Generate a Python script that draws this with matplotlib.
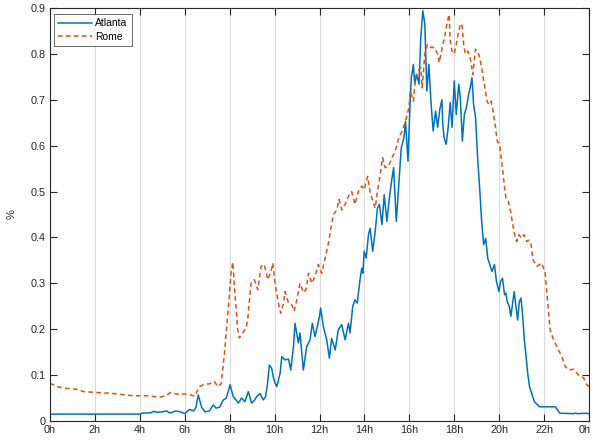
import matplotlib
matplotlib.use("Agg")
import matplotlib.pyplot as plt
from matplotlib.transforms import ScaledTranslation

plt.rcParams['font.family'] = ['Liberation Sans', 'DejaVu Sans']

# Atlanta: (hour, share) readings
atl_t = [0.0, 4.0, 4.1, 4.5, 4.6, 4.8, 5.0, 5.2, 5.3, 5.4, 5.6, 5.8, 6.0, 6.2, 6.4, 6.5, 6.6, 6.75,
         6.9, 7.1, 7.27, 7.4, 7.55, 7.72, 7.85, 8.02, 8.16, 8.3, 8.39, 8.53, 8.68, 8.83, 8.98, 9.1,
         9.2, 9.35, 9.5, 9.6, 9.68, 9.77, 9.87, 9.95, 10.02, 10.1, 10.25, 10.32, 10.47, 10.62, 10.72,
         10.84, 10.91, 11.06, 11.13, 11.28, 11.43, 11.58, 11.68, 11.8, 11.87, 12.0, 12.05, 12.17,
         12.32, 12.44, 12.54, 12.7, 12.84, 12.99, 13.14, 13.29, 13.36, 13.48, 13.58, 13.68, 13.81,
         13.88, 13.93, 13.99, 14.08, 14.18, 14.25, 14.37, 14.48, 14.58, 14.67, 14.78, 14.88, 15.0,
         15.12, 15.23, 15.3, 15.42, 15.53, 15.64, 15.76, 15.83, 15.94, 16.03, 16.09, 16.18, 16.24,
         16.33, 16.43, 16.51, 16.6, 16.69, 16.78, 16.87, 16.96, 17.06, 17.17, 17.26, 17.36, 17.45,
         17.49, 17.55, 17.64, 17.73, 17.82, 17.9, 18.0, 18.09, 18.2, 18.27, 18.36, 18.45, 18.54,
         18.64, 18.71, 18.79, 18.86, 18.95, 19.04, 19.13, 19.22, 19.31, 19.4, 19.49, 19.58, 19.68,
         19.79, 19.88, 19.99, 20.06, 20.15, 20.24, 20.3, 20.36, 20.45, 20.52, 20.67, 20.82, 20.9,
         20.97, 21.05, 21.12, 21.2, 21.27, 21.35, 21.45, 21.57, 21.65, 21.72, 21.8, 22.5, 22.6,
         22.7, 23.3, 23.4, 23.5, 23.9, 24.0]
atl_v = [0.015, 0.015, 0.017, 0.018, 0.021, 0.019, 0.02, 0.022, 0.018, 0.018, 0.022, 0.02, 0.016,
         0.025, 0.022, 0.03, 0.057, 0.03, 0.02, 0.022, 0.035, 0.028, 0.03, 0.046, 0.05, 0.079,
         0.053, 0.045, 0.039, 0.05, 0.042, 0.064, 0.039, 0.045, 0.053, 0.06, 0.046, 0.053, 0.08,
         0.122, 0.115, 0.094, 0.083, 0.075, 0.105, 0.14, 0.133, 0.135, 0.111, 0.162, 0.213, 0.17,
         0.192, 0.111, 0.162, 0.177, 0.213, 0.184, 0.199, 0.228, 0.246, 0.206, 0.177, 0.137, 0.18,
         0.155, 0.199, 0.21, 0.177, 0.213, 0.192, 0.25, 0.264, 0.257, 0.31, 0.333, 0.322, 0.37,
         0.355, 0.406, 0.42, 0.37, 0.413, 0.464, 0.472, 0.428, 0.493, 0.435, 0.49, 0.53, 0.552,
         0.435, 0.515, 0.595, 0.617, 0.653, 0.566, 0.69, 0.748, 0.777, 0.734, 0.755, 0.734, 0.836,
         0.894, 0.865, 0.719, 0.777, 0.697, 0.632, 0.675, 0.64, 0.68, 0.70, 0.647, 0.617, 0.603,
         0.64, 0.694, 0.64, 0.741, 0.668, 0.734, 0.705, 0.61, 0.668, 0.683, 0.712, 0.726, 0.748,
         0.69, 0.661, 0.574, 0.508, 0.435, 0.384, 0.398, 0.355, 0.341, 0.326, 0.341, 0.304, 0.282,
         0.304, 0.311, 0.275, 0.279, 0.26, 0.25, 0.228, 0.282, 0.22, 0.26, 0.268, 0.228, 0.177,
         0.14, 0.104, 0.075, 0.06, 0.042, 0.038, 0.035, 0.031, 0.031, 0.024, 0.017, 0.016, 0.017,
         0.016, 0.017, 0.015]

# Rome: (hour, share) readings
rome_t = [0.0, 0.3, 0.74, 1.2, 1.5, 2.1, 2.8, 3.7, 4.3, 4.9, 5.2, 5.35, 5.6, 5.8, 6.0, 6.25, 6.45,
          6.55, 6.65, 6.87, 7.1, 7.32, 7.47, 7.62, 7.77, 7.92, 8.06, 8.14, 8.2, 8.36, 8.43, 8.58,
          8.73, 8.8, 8.95, 9.1, 9.25, 9.4, 9.54, 9.7, 9.84, 9.92, 10.02, 10.17, 10.27, 10.4, 10.47,
          10.62, 10.77, 10.87, 10.99, 11.13, 11.28, 11.4, 11.51, 11.66, 11.8, 11.95, 12.1, 12.25,
          12.4, 12.5, 12.62, 12.77, 12.87, 12.99, 13.14, 13.29, 13.43, 13.58, 13.73, 13.88, 13.99,
          14.14, 14.25, 14.37, 14.48, 14.58, 14.7, 14.81, 14.92, 15.07, 15.23, 15.37, 15.53, 15.68,
          15.83, 15.98, 16.05, 16.18, 16.27, 16.38, 16.51, 16.57, 16.69, 16.81, 16.96, 17.1, 17.26,
          17.33, 17.48, 17.57, 17.67, 17.77, 17.82, 17.9, 18.0, 18.09, 18.2, 18.27, 18.34, 18.42,
          18.49, 18.6, 18.71, 18.83, 18.94, 19.04, 19.13, 19.22, 19.31, 19.39, 19.46, 19.54, 19.64,
          19.73, 19.84, 19.91, 20.02, 20.11, 20.21, 20.3, 20.41, 20.51, 20.58, 20.69, 20.78, 20.88,
          20.99, 21.11, 21.23, 21.33, 21.42, 21.5, 21.68, 21.9, 22.05, 22.15, 22.27, 22.42, 22.64,
          22.79, 22.94, 23.09, 23.31, 23.46, 23.61, 23.76, 23.9, 24.0]
rome_v = [0.082, 0.075, 0.071, 0.069, 0.064, 0.062, 0.06, 0.055, 0.055, 0.052, 0.056, 0.062, 0.059,
          0.058, 0.059, 0.057, 0.054, 0.065, 0.075, 0.08, 0.081, 0.086, 0.075, 0.081, 0.148, 0.235,
          0.322, 0.346, 0.30, 0.199, 0.181, 0.192, 0.203, 0.22, 0.30, 0.308, 0.286, 0.337, 0.341,
          0.308, 0.326, 0.344, 0.30, 0.257, 0.235, 0.257, 0.282, 0.257, 0.253, 0.239, 0.264, 0.30,
          0.28, 0.286, 0.322, 0.30, 0.315, 0.341, 0.322, 0.355, 0.388, 0.417, 0.45, 0.46, 0.483,
          0.46, 0.472, 0.49, 0.50, 0.472, 0.50, 0.512, 0.504, 0.533, 0.50, 0.479, 0.464, 0.50,
          0.536, 0.574, 0.552, 0.555, 0.574, 0.588, 0.617, 0.632, 0.653, 0.683, 0.719, 0.697,
          0.748, 0.763, 0.77, 0.726, 0.80, 0.821, 0.814, 0.814, 0.80, 0.781, 0.818, 0.836, 0.865,
          0.886, 0.83, 0.806, 0.80, 0.821, 0.85, 0.865, 0.865, 0.821, 0.80, 0.806, 0.792, 0.755,
          0.81, 0.806, 0.792, 0.77, 0.741, 0.719, 0.697, 0.69, 0.697, 0.675, 0.639, 0.61, 0.603,
          0.566, 0.522, 0.486, 0.479, 0.457, 0.435, 0.406, 0.391, 0.406, 0.398, 0.406, 0.391,
          0.394, 0.385, 0.352, 0.337, 0.344, 0.322, 0.264, 0.199, 0.177, 0.155, 0.14, 0.119, 0.111,
          0.113, 0.104, 0.097, 0.094, 0.079, 0.075]

x_ticks = list(range(0, 25, 2))
x_labels = ['0h', '2h', '4h', '6h', '8h', '10h', '12h', '14h', '16h', '18h', '20h', '22h', '0h']
y_ticks = [0, 0.1, 0.2, 0.3, 0.4, 0.5, 0.6, 0.7, 0.8, 0.9]
y_labels = ['0', '0.1', '0.2', '0.3', '0.4', '0.5', '0.6', '0.7', '0.8', '0.9']

fig = plt.figure(figsize=(5.93, 4.42), dpi=100)
ax = fig.add_axes([50/593, 21/442, 539/593, 413/442])

axc = '#262626'
ax.plot(atl_t, atl_v, color='#0072BD', lw=1.1, label='Atlanta')
ax.plot(rome_t, rome_v, color='#D95319', lw=1.1, ls=(0, (3, 2.2)), label='Rome')

ax.set_xlim(0, 24)
ax.set_ylim(0, 0.9)
ax.set_xticks(x_ticks)
ax.set_xticklabels(x_labels)
ax.set_yticks(y_ticks)
ax.set_yticklabels(y_labels)
ax.xaxis.grid(True, color='#dcdcdc', lw=0.8)
ax.set_axisbelow(True)
ax.tick_params(direction='in', length=5, width=0.8, colors=axc, labelsize=7.8,
               top=True, right=True, pad=3)
for s in ax.spines.values():
    s.set_color(axc)
    s.set_linewidth(0.8)
ax.set_ylabel('%', fontsize=8, color=axc, labelpad=10)

# keep the final "0h" label inside the canvas
last = ax.get_xticklabels()[-1]
last.set_transform(last.get_transform() + ScaledTranslation(-4/100, 0, fig.dpi_scale_trans))

leg = ax.legend(loc='upper left', bbox_to_anchor=(0.007, 0.985), borderaxespad=0,
                fontsize=7.5, frameon=True, fancybox=False, handlelength=3.3,
                handletextpad=0.3, borderpad=0.4, labelspacing=0.35)
leg.get_frame().set_edgecolor('#262626')
leg.get_frame().set_linewidth(0.6)

fig.savefig('out.png', dpi=100)
